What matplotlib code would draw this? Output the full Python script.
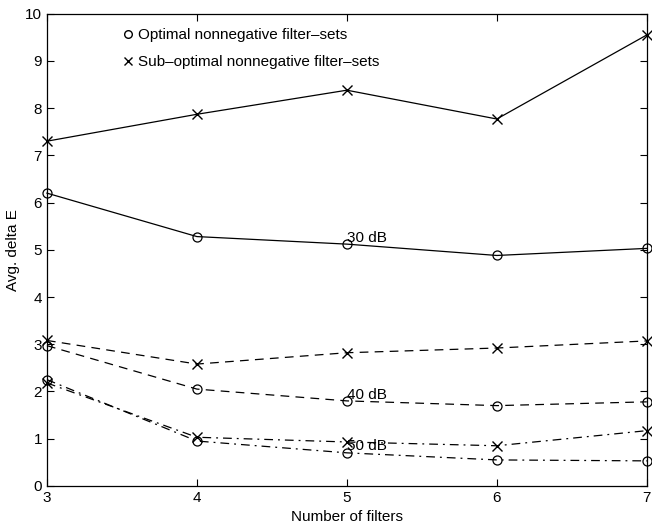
import matplotlib.pyplot as plt
from matplotlib.lines import Line2D

plt.rcParams['font.family'] = ['Liberation Sans', 'DejaVu Sans']

filters = [3, 4, 5, 6, 7]

# avg delta E per noise level
opt_30 = [6.20, 5.28, 5.12, 4.88, 5.03]
sub_30 = [7.30, 7.87, 8.38, 7.77, 9.55]
opt_40 = [2.97, 2.05, 1.80, 1.70, 1.78]
sub_40 = [3.08, 2.58, 2.82, 2.92, 3.07]
opt_50 = [2.25, 0.95, 0.70, 0.55, 0.53]
sub_50 = [2.18, 1.03, 0.93, 0.85, 1.17]

labels = ['30 dB', '40 dB', '50 dB']
label_y = [5.17, 1.85, 0.77]

fig = plt.figure(figsize=(6.52, 5.27), dpi=100)
ax = fig.add_axes([0.072, 0.078, 0.920, 0.896])

lw = 0.9
ms = 6.5
fs = 11
styles = ['-', (0, (7, 5)), (0, (7, 4, 1.5, 4))]
for ls, opt, sub in zip(styles, [opt_30, opt_40, opt_50], [sub_30, sub_40, sub_50]):
    ax.plot(filters, opt, color='k', lw=lw, ls=ls, marker='o', ms=ms,
            mfc='none', mew=0.9, clip_on=False)
    ax.plot(filters, sub, color='k', lw=lw, ls=ls, marker='x', ms=ms,
            mew=1.0, clip_on=False)

for lab, y in zip(labels, label_y):
    ax.text(5.0, y, lab, fontsize=fs, ha='left', va='baseline')

handles = [Line2D([], [], color='k', marker='o', ls='none', mfc='none', ms=5.5),
           Line2D([], [], color='k', marker='x', ls='none', ms=5.5)]
ax.legend(handles, ['Optimal nonnegative filter\u2013sets',
                    'Sub\u2013optimal nonnegative filter\u2013sets'],
          loc='upper left', bbox_to_anchor=(0.105, 0.998), frameon=False,
          handlelength=0.6, handletextpad=0.35, fontsize=fs, labelspacing=0.85)

ax.set_xlim(3, 7)
ax.set_ylim(0, 10)
ax.set_xticks(filters)
ax.set_yticks(range(0, 11))
ax.tick_params(direction='in', top=True, right=True, labelsize=fs, length=5, width=0.8)
for s in ax.spines.values():
    s.set_linewidth(0.9)
ax.set_xlabel('Number of filters', fontsize=fs, labelpad=4)
ax.set_ylabel('Avg. delta E', fontsize=fs, labelpad=4)

fig.savefig('out.png', dpi=100)
